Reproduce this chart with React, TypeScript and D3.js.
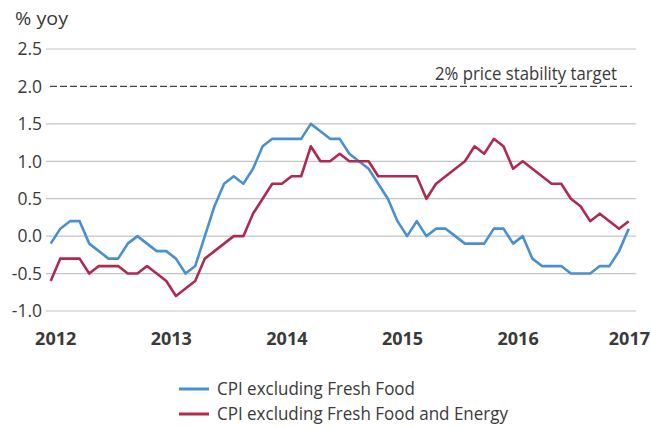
import * as d3 from "d3";

// monthly, Jan 2012 .. Jan 2017
const cpiExFresh = [
  -0.1, 0.1, 0.2, 0.2, -0.1, -0.2, -0.3, -0.3, -0.1, 0.0, -0.1, -0.2,
  -0.2, -0.3, -0.5, -0.4, 0.0, 0.4, 0.7, 0.8, 0.7, 0.9, 1.2, 1.3,
  1.3, 1.3, 1.3, 1.5, 1.4, 1.3, 1.3, 1.1, 1.0, 0.9, 0.7, 0.5,
  0.2, 0.0, 0.2, 0.0, 0.1, 0.1, 0.0, -0.1, -0.1, -0.1, 0.1, 0.1,
  -0.1, 0.0, -0.3, -0.4, -0.4, -0.4, -0.5, -0.5, -0.5, -0.4, -0.4, -0.2,
  0.1,
];
const cpiExFreshEnergy = [
  -0.6, -0.3, -0.3, -0.3, -0.5, -0.4, -0.4, -0.4, -0.5, -0.5, -0.4, -0.5,
  -0.6, -0.8, -0.7, -0.6, -0.3, -0.2, -0.1, 0.0, 0.0, 0.3, 0.5, 0.7,
  0.7, 0.8, 0.8, 1.2, 1.0, 1.0, 1.1, 1.0, 1.0, 1.0, 0.8, 0.8,
  0.8, 0.8, 0.8, 0.5, 0.7, 0.8, 0.9, 1.0, 1.2, 1.1, 1.3, 1.2,
  0.9, 1.0, 0.9, 0.8, 0.7, 0.7, 0.5, 0.4, 0.2, 0.3, 0.2, 0.1,
  0.2,
];
const years = [2012, 2013, 2014, 2015, 2016, 2017];
const yTicks = [2.5, 2.0, 1.5, 1.0, 0.5, 0.0, -0.5, -1.0];
const target = 2.0;

const seriesNames = ["CPI excluding Fresh Food", "CPI excluding Fresh Food and Energy"];
const colors = ["#4a90d0", "#b02a50"];

const W = 651;
const H = 428;
const font = "'Open Sans', 'Noto Sans', sans-serif";
const textColor = "#3a3a3a";

export default function App() {
  const x = d3.scaleLinear().domain([0, cpiExFresh.length - 1]).range([50.7, 628.7]);
  const y = d3.scaleLinear().domain([-1, 2.5]).range([311, 49]);
  const gridLeft = 46;
  const gridRight = 636;

  const line = d3
    .line<number>()
    .x((_, i) => x(i))
    .y((d) => y(d));

  const all = [cpiExFresh, cpiExFreshEnergy];

  return (
    <svg
      width={W}
      height={H}
      style={{ position: "absolute", left: 0, top: 0, background: "#fff" }}
      fontFamily={font}
    >
      <text x={15} y={25} fontSize={18} fill={textColor} textLength={53} lengthAdjust="spacingAndGlyphs">
        % yoy
      </text>

      {yTicks.map((t) => (
        <g key={t}>
          {t !== target && (
            <line x1={gridLeft} x2={gridRight} y1={y(t)} y2={y(t)} stroke="#c4c4c4" strokeWidth={1.2} />
          )}
          <text
            x={42}
            y={y(t)}
            dy="0.36em"
            textAnchor="end"
            fontSize={17.5}
            fill={textColor}
          >
            {t.toFixed(1)}
          </text>
        </g>
      ))}

      <line
        x1={gridLeft + 4}
        x2={gridRight - 4}
        y1={y(target)}
        y2={y(target)}
        stroke="#444"
        strokeWidth={1.3}
        strokeDasharray="7,3"
      />
      <text
        x={617}
        y={y(target) - 6}
        textAnchor="end"
        fontSize={17.5}
        fill={textColor}
        textLength={182}
        lengthAdjust="spacingAndGlyphs"
      >
        2% price stability target
      </text>

      {all.map((s, i) => (
        <path key={i} d={line(s) || undefined} fill="none" stroke={colors[i]} strokeWidth={2.6} strokeLinejoin="round" />
      ))}

      {years.map((yr, i) => {
        const last = i === years.length - 1;
        return (
          <text
            key={yr}
            x={last ? W - 1 : x(i * 12) + 5}
            y={345}
            textAnchor={last ? "end" : "middle"}
            fontSize={18}
            fontWeight="bold"
            fill={textColor}
          >
            {yr}
          </text>
        );
      })}

      {seriesNames.map((name, i) => (
        <g key={name} transform={`translate(179, ${389 + i * 25})`}>
          <line x1={0} x2={30} y1={0} y2={0} stroke={colors[i]} strokeWidth={3} />
          <text
            x={38}
            y={0}
            dy="0.36em"
            fontSize={17.5}
            fill={textColor}
            textLength={i === 0 ? 198 : 291}
            lengthAdjust="spacingAndGlyphs"
          >
            {name}
          </text>
        </g>
      ))}
    </svg>
  );
}
